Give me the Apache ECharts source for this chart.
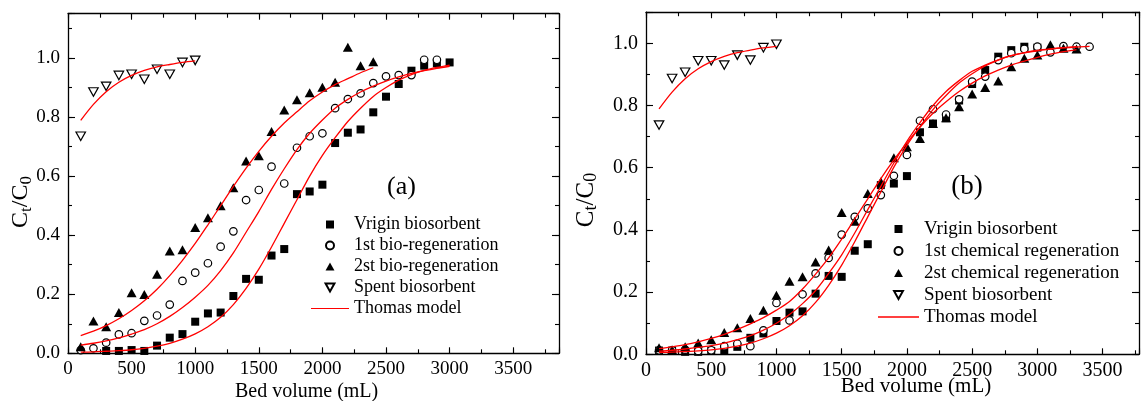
<!DOCTYPE html>
<html><head><meta charset="utf-8">
<script src="https://cdn.jsdelivr.net/npm/echarts@6/dist/echarts.min.js"></script>
<style>html,body{margin:0;padding:0;background:#fff}#c{width:1142px;height:401px}</style>
</head><body><div id="c"></div>
<script>
// ---------------- data ----------------
// bed volumes (mL)
const vol100_1000 = [100,200,300,400,500,600,700,800,900,1000];
const vol300_3000 = [300,400,500,600,700,800,900,1000,1100,1200,1300,1400,1500,1600,1700,1800,1900,2000,2100,2200,2300,2400,2500,2600,2700,2800,2900,3000];
const vol100_2400 = [100,200,300,400,500,600,700,800,900,1000,1100,1200,1300,1400,1500,1600,1700,1800,1900,2000,2100,2200,2300,2400];
const vol100_2900 = [100,200,300,400,500,600,700,800,900,1000,1100,1200,1300,1400,1500,1600,1700,1800,1900,2000,2100,2200,2300,2400,2500,2600,2700,2800,2900];
const vol100_3000 = [100,200,300,400,500,600,700,800,900,1000,1100,1200,1300,1400,1500,1600,1700,1800,1900,2000,2100,2200,2300,2400,2500,2600,2700,2800,2900,3000];
const vol100_3300 = [100,200,300,400,500,600,700,800,900,1000,1100,1200,1300,1400,1500,1600,1700,1800,1900,2000,2100,2200,2300,2400,2500,2600,2700,2800,2900,3000,3100,3200,3300];
const vol100_3400 = [100,200,300,400,500,600,700,800,900,1000,1100,1200,1300,1400,1500,1600,1700,1800,1900,2000,2100,2200,2300,2400,2500,2600,2700,2800,2900,3000,3100,3200,3300,3400];

// panel (a) measured Ct/C0
const spentA   = [0.735,0.885,0.904,0.941,0.945,0.928,0.962,0.945,0.985,0.992];
const virginA  = [0.008,0.008,0.011,0.008,0.026,0.053,0.065,0.107,0.135,0.138,0.194,0.252,0.249,0.331,0.353,0.539,0.548,0.571,0.712,0.747,0.758,0.816,0.869,0.912,0.957,0.974,0.982,0.985];
const bio1A    = [0.011,0.017,0.036,0.064,0.068,0.110,0.128,0.165,0.245,0.273,0.305,0.361,0.413,0.519,0.553,0.632,0.575,0.696,0.735,0.745,0.830,0.861,0.880,0.915,0.938,0.942,0.942,0.994,0.994];
const bio2A    = [0.022,0.109,0.090,0.138,0.205,0.199,0.268,0.346,0.351,0.426,0.459,0.500,0.561,0.651,0.669,0.751,0.824,0.859,0.882,0.901,0.918,1.036,0.974,0.987];
// panel (a) Thomas model curves
const thomasSpentA  = [0.789,0.843,0.886,0.918,0.941,0.958,0.970,0.978,0.985,0.990];
const thomasVirginA = [0.004,0.005,0.007,0.009,0.012,0.017,0.024,0.034,0.048,0.066,0.090,0.122,0.165,0.220,0.285,0.360,0.440,0.520,0.600,0.670,0.730,0.785,0.830,0.870,0.900,0.925,0.944,0.958,0.968,0.976];
const thomasBio1A   = [0.028,0.034,0.042,0.052,0.065,0.080,0.100,0.125,0.155,0.190,0.230,0.280,0.340,0.410,0.480,0.555,0.625,0.690,0.745,0.790,0.830,0.860,0.885,0.905,0.922,0.936,0.948,0.957,0.965,0.972];
const thomasBio2A   = [0.060,0.075,0.094,0.117,0.145,0.178,0.217,0.263,0.315,0.372,0.435,0.500,0.565,0.627,0.684,0.735,0.780,0.818,0.855,0.885,0.910,0.930,0.950,0.967];

// panel (b) measured Ct/C0
const spentB   = [0.737,0.887,0.907,0.944,0.944,0.930,0.962,0.946,0.986,0.997];
const virginB  = [0.012,0.012,0.008,0.008,0.011,0.011,0.024,0.053,0.067,0.107,0.134,0.138,0.195,0.252,0.249,0.333,0.354,0.544,0.549,0.573,0.714,0.742,0.759,0.816,0.869,0.914,0.957,0.978,0.989,0.986];
const chem1B   = [0.013,0.013,0.015,0.011,0.013,0.026,0.034,0.026,0.077,0.165,0.109,0.193,0.260,0.310,0.385,0.442,0.469,0.512,0.574,0.641,0.751,0.788,0.771,0.820,0.877,0.893,0.946,0.968,0.982,0.989,0.971,0.991,0.989,0.989];
const chem2B   = [0.021,0.015,0.024,0.036,0.047,0.070,0.085,0.115,0.142,0.190,0.235,0.249,0.297,0.335,0.456,0.428,0.517,0.555,0.632,0.667,0.694,0.742,0.761,0.796,0.837,0.858,0.879,0.925,0.952,0.962,0.995,0.984,0.982];
// panel (b) Thomas model curves
const thomasSpentB  = [0.789,0.843,0.886,0.918,0.941,0.958,0.970,0.978,0.985,0.990];
const thomasVirginB = [0.006,0.007,0.009,0.011,0.014,0.019,0.026,0.036,0.050,0.068,0.092,0.124,0.167,0.222,0.287,0.362,0.442,0.522,0.602,0.672,0.732,0.787,0.832,0.872,0.902,0.927,0.946,0.960,0.970,0.977,0.982,0.986,0.989];
const thomasChem1B  = [0.010,0.013,0.017,0.022,0.028,0.036,0.047,0.060,0.078,0.100,0.128,0.163,0.205,0.260,0.320,0.390,0.465,0.540,0.615,0.685,0.745,0.800,0.845,0.880,0.910,0.930,0.947,0.960,0.969,0.976,0.981,0.985,0.988,0.990];
const thomasChem2B  = [0.018,0.024,0.031,0.040,0.051,0.064,0.080,0.098,0.118,0.142,0.170,0.210,0.258,0.310,0.370,0.435,0.500,0.565,0.625,0.680,0.730,0.775,0.812,0.845,0.872,0.895,0.914,0.930,0.943,0.955,0.965,0.973,0.980];

// axis tick values
const xMajorStep = 500, xMinorStep = 250, yMajorStep = 0.2, yMinorStep = 0.1;
const xLastLabel = 3500;

// ---------------- helpers ----------------
const SERIF = '"Liberation Serif","Times New Roman",serif';
const pts = (xs, ys) => xs.map((x, i) => [x, ys[i]]);
const SQ   = 'path://M0,0H10V10H0Z';
const TRI  = 'path://M5,0L10,9L0,9Z';
const DTRI = 'path://M0,0L10,0L5,9Z';
const LINE = 'path://M0,0H40V1.3H0Z';

const panels = [
  {left:68, top:13.7, width:491, height:339.6, xmax:3860, ymax:1.15, fs:19},
  {left:646, top:12.2, width:495, height:342.1, xmax:3779, ymax:1.1, fs:20}
];

const xFmt = v => { const r = Math.round(v); return (r % xMajorStep === 0 && r <= xLastLabel) ? String(r) : ''; };
const yFmt = v => { const k = v / yMajorStep; return (Math.abs(k - Math.round(k)) < 1e-6 && v <= 1.0001) ? v.toFixed(1) : ''; };

const xAxes = [], yAxes = [];
panels.forEach((p, gi) => {
  ['bottom','top'].forEach(pos => {
    [false, true].forEach(minor => {
      xAxes.push({
        type:'value', gridIndex:gi, position:pos, min:0, max:p.xmax,
        interval: minor ? xMinorStep : xMajorStep,
        axisLine:{show:!minor, onZero:false, lineStyle:{color:'#000', width:1.3}},
        axisTick:{show:true, inside:true, length: minor ? 4 : 6, lineStyle:{color:'#000', width:1.1}},
        axisLabel:{show: pos === 'bottom' && !minor, formatter:xFmt, margin:6,
          fontFamily:SERIF, fontSize:p.fs, color:'#000'},
        splitLine:{show:false}, minorTick:{show:false}, silent:true
      });
    });
  });
  ['left','right'].forEach(pos => {
    [false, true].forEach(minor => {
      yAxes.push({
        type:'value', gridIndex:gi, position:pos, min:0, max:p.ymax,
        interval: minor ? yMinorStep : yMajorStep,
        axisLine:{show:!minor, onZero:false, lineStyle:{color:'#000', width:1.3}},
        axisTick:{show:true, inside:true, length: minor ? 4 : 7, lineStyle:{color:'#000', width:1.1}},
        axisLabel:{show: pos === 'left' && !minor, formatter:yFmt, margin:8,
          fontFamily:SERIF, fontSize:p.fs, color:'#000'},
        splitLine:{show:false}, minorTick:{show:false}, silent:true
      });
    });
  });
});

const sqStyle   = {symbol:'rect', symbolSize:8, itemStyle:{color:'#000', opacity:1}};
const circStyle = {symbol:'circle', symbolSize:7.5, itemStyle:{color:'#fff', borderColor:'#000', borderWidth:1.2, opacity:1}};
const triStyle  = {symbol:TRI, symbolSize:[10,9], symbolKeepAspect:false, itemStyle:{color:'#000', opacity:1}};
const dtriStyle = {symbol:DTRI, symbolSize:[9.5,8.5], symbolKeepAspect:false, itemStyle:{color:'#fff', borderColor:'#000', borderWidth:1.2, opacity:1}};

function scatter(name, gi, data, st) {
  return Object.assign({type:'scatter', name, xAxisIndex:gi*4, yAxisIndex:gi*4, data, z:2,
    silent:true, emphasis:{disabled:true}}, JSON.parse(JSON.stringify(st)));
}
function curve(gi, data) {
  return {type:'line', name:'Thomas model', xAxisIndex:gi*4, yAxisIndex:gi*4, data, z:3,
    symbol:'none', showSymbol:false, smooth:0.3, silent:true, lineStyle:{color:'#ff0000', width:1.3},
    itemStyle:{color:'#ff0000'}, emphasis:{disabled:true}};
}

const series = [
  scatter('Vrigin biosorbent', 0, pts(vol300_3000, virginA), sqStyle),
  scatter('1st bio-regeneration', 0, pts(vol100_2900, bio1A), circStyle),
  scatter('2st bio-regeneration', 0, pts(vol100_2400, bio2A), triStyle),
  scatter('Spent biosorbent', 0, pts(vol100_1000, spentA), dtriStyle),
  curve(0, pts(vol100_1000, thomasSpentA)),
  curve(0, pts(vol100_3000, thomasVirginA)),
  curve(0, pts(vol100_3000, thomasBio1A)),
  curve(0, pts(vol100_2400, thomasBio2A)),
  scatter('Vrigin biosorbent', 1, pts(vol100_3000, virginB), sqStyle),
  scatter('1st chemical regeneration', 1, pts(vol100_3400, chem1B), circStyle),
  scatter('2st chemical regeneration', 1, pts(vol100_3300, chem2B), triStyle),
  scatter('Spent biosorbent', 1, pts(vol100_1000, spentB), dtriStyle),
  curve(1, pts(vol100_1000, thomasSpentB)),
  curve(1, pts(vol100_3300, thomasVirginB)),
  curve(1, pts(vol100_3400, thomasChem1B)),
  curve(1, pts(vol100_3300, thomasChem2B))
];

function legend(left, top, w, fs, gap, names) {
  return {
    orient:'vertical', left, top, padding:0, itemWidth:w, itemHeight:8, itemGap:gap,
    selectedMode:false, textStyle:{fontFamily:SERIF, fontSize:fs, color:'#000', lineHeight:fs},
    data:[
      {name:names[0], icon:SQ},
      {name:names[1], icon:'circle'},
      {name:names[2], icon:TRI},
      {name:names[3], icon:DTRI},
      {name:'Thomas model', icon:LINE, itemStyle:{color:'#ff0000', borderWidth:0}}
    ]
  };
}

function yTitle(x, y, fs) {
  return {type:'text', x, y, rotation:Math.PI/2, silent:true,
    style:{text:'{m|C}{s|t}{m|/C}{s|0}', align:'center', verticalAlign:'middle', fill:'#000',
      rich:{m:{fontFamily:SERIF, fontSize:fs, lineHeight:fs+4, fill:'#000'},
            s:{fontFamily:SERIF, fontSize:Math.round(fs*0.7), lineHeight:Math.round(fs*0.75), verticalAlign:'bottom', fill:'#000'}}}};
}
function txt(x, y, text, fs) {
  return {type:'text', x, y, silent:true,
    style:{text, align:'center', verticalAlign:'middle', fill:'#000', font:fs + 'px ' + SERIF}};
}

const option = {
  animation:false,
  backgroundColor:'#fff',
  grid: panels.map(p => ({left:p.left, top:p.top, width:p.width, height:p.height, containLabel:false})),
  xAxis: xAxes,
  yAxis: yAxes,
  legend: [
    legend(311, 215.5, 38, 18, 3, ['Vrigin biosorbent','1st bio-regeneration','2st bio-regeneration','Spent biosorbent']),
    legend(878, 219.5, 41, 19, 3, ['Vrigin biosorbent','1st chemical regeneration','2st chemical regeneration','Spent biosorbent'])
  ],
  graphic: [
    yTitle(21, 202, 24),
    yTitle(586, 200, 25),
    txt(306.6, 391.7, 'Bed volume (mL)', 20),
    txt(916, 386.7, 'Bed volume (mL)', 21),
    txt(401.5, 187, '(a)', 26),
    txt(967, 187, '(b)', 27)
  ],
  series
};

const chart = echarts.init(document.getElementById('c'), null, {renderer:'canvas'});
chart.setOption(option);
</script>
</body></html>
